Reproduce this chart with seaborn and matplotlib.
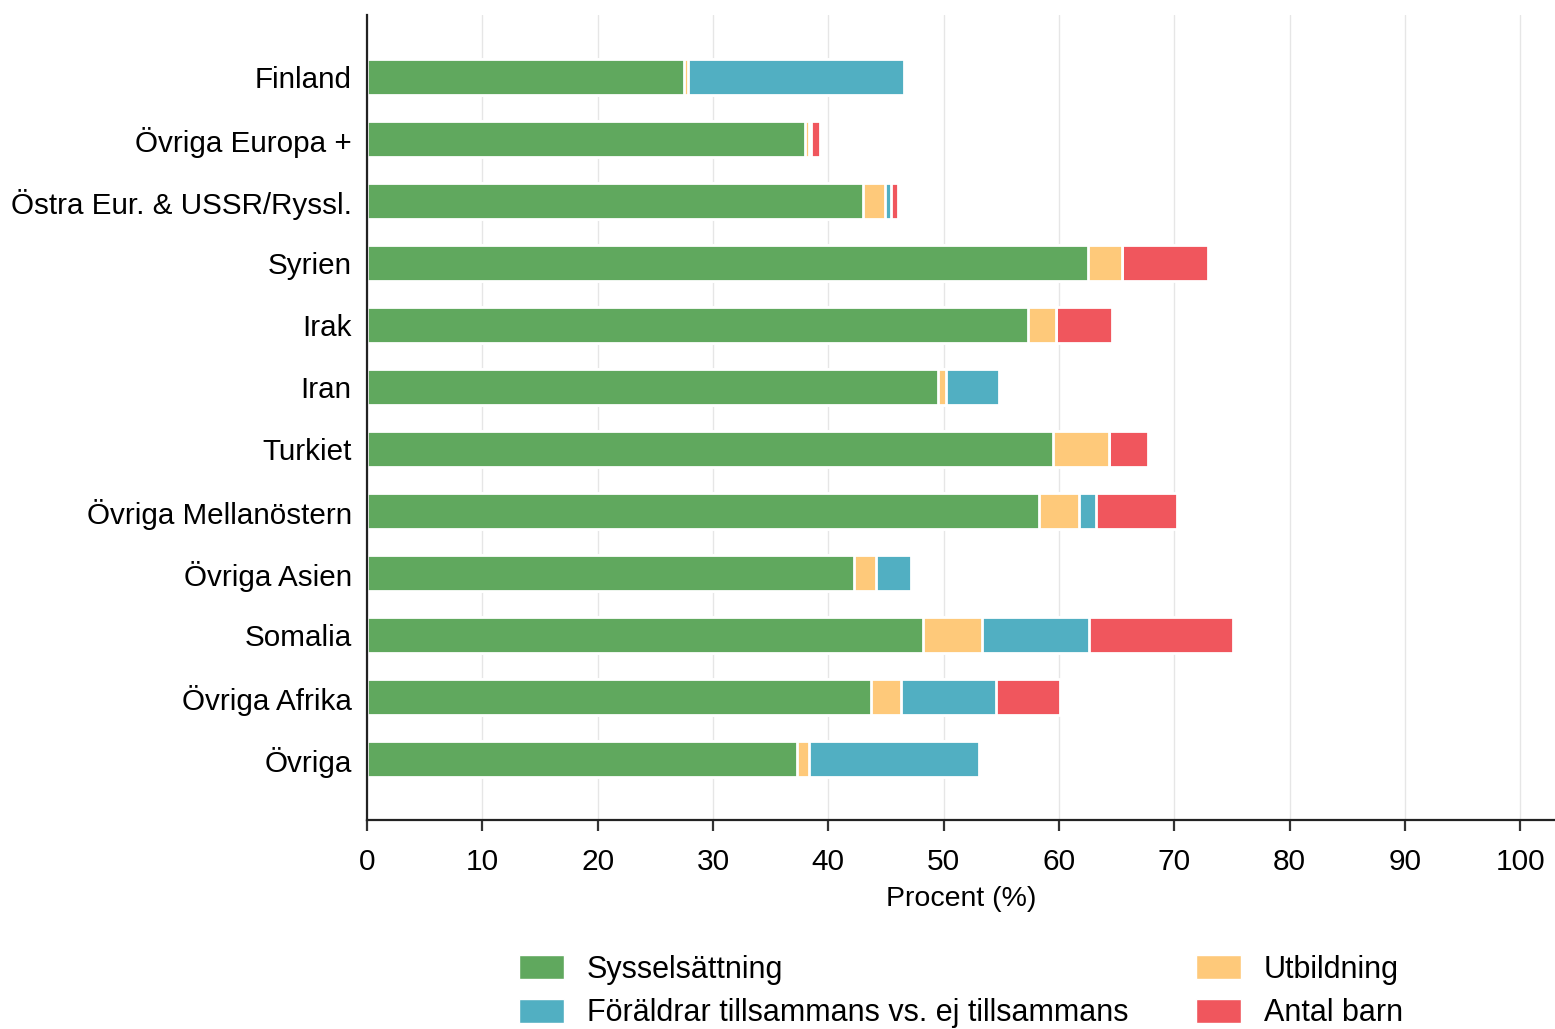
import numpy as np
import pandas as pd
import matplotlib
matplotlib.use("Agg")
import matplotlib.pyplot as plt
from matplotlib.patches import Patch
import seaborn as sns

countries = [
    "Finland", "Övriga Europa +", "Östra Eur. & USSR/Ryssl.", "Syrien", "Irak",
    "Iran", "Turkiet", "Övriga Mellanöstern", "Övriga Asien", "Somalia",
    "Övriga Afrika", "Övriga",
]
sysselsattning = [27.5, 38.0, 43.0, 62.5, 57.3, 49.5, 59.5, 58.3, 42.2, 48.2, 43.7, 37.3]
utbildning = [0.3, 0.3, 1.9, 3.0, 2.4, 0.7, 4.8, 3.4, 1.9, 5.1, 2.6, 1.0]
foraldrar = [18.8, 0.2, 0.5, 0.0, 0.0, 4.6, 0.0, 1.5, 3.1, 9.3, 8.2, 14.8]
antal_barn = [0.0, 0.8, 0.6, 7.4, 4.9, 0.0, 3.4, 7.0, 0.0, 12.5, 5.6, 0.0]

labels = ["Sysselsättning", "Utbildning",
          "Föräldrar tillsammans vs. ej tillsammans", "Antal barn"]
colors = ["#60a85e", "#fec97a", "#51afc2", "#f0565d"]

df = pd.DataFrame({
    "land": countries,
    labels[0]: sysselsattning,
    labels[1]: utbildning,
    labels[2]: foraldrar,
    labels[3]: antal_barn,
})
cum = df[labels].cumsum(axis=1)
cum["land"] = df["land"]

sns.set_style("white")
plt.rcParams["font.family"] = ["Liberation Sans", "DejaVu Sans"]
plt.rcParams["text.color"] = "black"
plt.rcParams["xtick.color"] = "black"
plt.rcParams["ytick.color"] = "black"
plt.rcParams["axes.labelcolor"] = "black"

fig = plt.figure(figsize=(15.55, 10.29), dpi=100)
ax = fig.add_axes([0.236, 0.203, 0.764, 0.782])

# stacked bars: draw cumulative totals from the outside in
for lab, col in reversed(list(zip(labels, colors))):
    sns.barplot(data=cum, x=lab, y="land", order=countries, color=col,
                saturation=1, orient="h", width=0.58, edgecolor="white",
                linewidth=2, ax=ax, zorder=2)

ax.set_xlim(0, 103)
ax.set_ylim(11.98, -1.0)
ax.set_xticks(range(0, 101, 10))
ax.xaxis.grid(True, color="#e6e6e6", linewidth=1, zorder=0)
ax.set_axisbelow(True)
ax.yaxis.grid(False)

for s in ["top", "right"]:
    ax.spines[s].set_visible(False)
for s in ["left", "bottom"]:
    ax.spines[s].set_color("#222222")
    ax.spines[s].set_linewidth(1.6)

ax.tick_params(axis="x", bottom=True, length=8, width=1.6, color="#333333",
               labelsize=21.5, pad=12)
ax.tick_params(axis="y", left=False, length=0, labelsize=21.3, pad=11)
ax.set_xlabel("Procent (%)", fontsize=20.5, labelpad=7)
ax.set_ylabel("")

order = [0, 2, 1, 3]
handles = [Patch(facecolor=colors[i], edgecolor="white", label=labels[i]) for i in order]
ax.legend(handles=handles, loc="upper center", bbox_to_anchor=(0.5, -0.133),
          ncol=2, frameon=False, fontsize=22, handlelength=1.47,
          handleheight=0.85, handletextpad=0.75, labelspacing=0.45,
          columnspacing=2.2)

fig.savefig("out.png", dpi=100)
